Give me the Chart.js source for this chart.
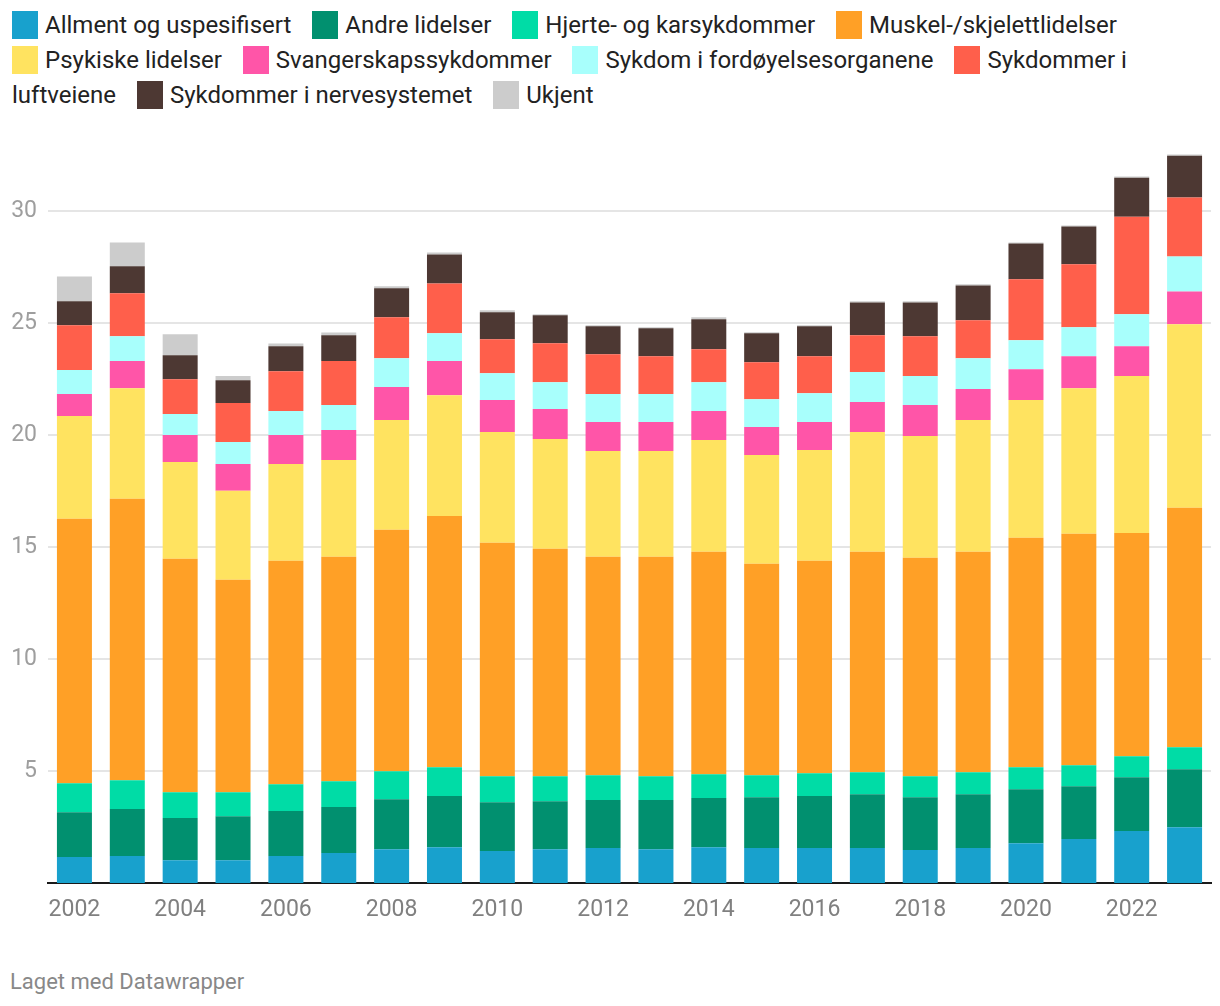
<!DOCTYPE html>
<html>
<head>
<meta charset="utf-8">
<script src="https://cdn.jsdelivr.net/npm/chart.js@4.4.1/dist/chart.umd.min.js"></script>
<style>
  body { margin: 0; background: #fff; font-family: Roboto, sans-serif; }
  #legend { position: absolute; left: 12px; top: 8px; width: 1200px; font-size: 24px; line-height: 35px; color: #222; }
  #legend .it { margin-right: 15px; }
  #legend .nw { white-space: nowrap; }
  #legend .sw { display: inline-block; width: 26px; height: 28px; vertical-align: -6px; margin-right: 7px; }
  #wrap { position: absolute; left: 0; top: 128px; width: 1220px; height: 812px; }
  #foot { position: absolute; left: 10px; top: 969px; font-size: 22px; color: #888; }
</style>
</head>
<body>
<div id="legend"></div>
<div id="wrap"><canvas id="chart"></canvas></div>
<div id="foot">Laget med Datawrapper</div>
<script>
const years = ['2002','2003','2004','2005','2006','2007','2008','2009','2010','2011','2012',
  '2013','2014','2015','2016','2017','2018','2019','2020','2021','2022','2023'];

const seriesNames = ['Allment og uspesifisert', 'Andre lidelser', 'Hjerte- og karsykdommer',
  'Muskel-/skjelettlidelser', 'Psykiske lidelser', 'Svangerskapssykdommer',
  'Sykdom i fordøyelsesorganene', 'Sykdommer i luftveiene', 'Sykdommer i nervesystemet', 'Ukjent'];
const seriesColors = ['#18a1cd', '#01906f', '#00dca6', '#ffa026', '#ffe360',
  '#ff55a8', '#a8fffc', '#ff5f4b', '#4d3833', '#cccccc'];

const allment  = [1.16,1.20,1.02,1.02,1.20,1.34,1.51,1.60,1.43,1.51,1.56,1.51,1.60,1.56,1.56,1.56,1.47,1.56,1.78,1.96,2.32,2.49];
const andre    = [2.00,2.10,1.88,1.96,2.01,2.05,2.23,2.28,2.18,2.14,2.14,2.19,2.19,2.27,2.32,2.40,2.36,2.40,2.41,2.36,2.40,2.59];
const hjerte   = [1.29,1.29,1.15,1.07,1.20,1.15,1.25,1.29,1.16,1.12,1.11,1.07,1.07,0.98,1.02,0.98,0.94,0.98,0.98,0.94,0.94,0.98];
const muskel   = [11.81,12.56,10.43,9.49,9.98,10.03,10.78,11.22,10.42,10.15,9.76,9.80,9.93,9.44,9.49,9.85,9.75,9.85,10.24,10.33,9.97,10.69];
const psykiske = [4.59,4.94,4.32,3.97,4.32,4.32,4.90,5.39,4.94,4.90,4.72,4.72,4.99,4.86,4.94,5.34,5.44,5.88,6.15,6.50,7.00,8.19];
const svanger  = [0.98,1.21,1.20,1.20,1.29,1.33,1.47,1.52,1.43,1.34,1.29,1.29,1.29,1.25,1.25,1.34,1.38,1.38,1.38,1.43,1.33,1.47];
const fordoy   = [1.07,1.11,0.94,0.98,1.07,1.12,1.29,1.24,1.20,1.20,1.25,1.25,1.29,1.24,1.29,1.34,1.29,1.38,1.29,1.29,1.43,1.56];
const luftveie = [2.00,1.92,1.55,1.74,1.78,1.96,1.83,2.23,1.52,1.74,1.78,1.69,1.47,1.65,1.65,1.64,1.78,1.69,2.72,2.81,4.36,2.63];
const nerve    = [1.07,1.20,1.07,1.02,1.11,1.15,1.29,1.29,1.20,1.25,1.25,1.25,1.34,1.29,1.34,1.47,1.51,1.56,1.60,1.69,1.74,1.87];
const ukjent   = [1.11,1.07,0.94,0.18,0.13,0.13,0.09,0.09,0.09,0.04,0.04,0.04,0.09,0.05,0.04,0.05,0.05,0.05,0.05,0.04,0.05,0.05];

const yTicks = [5, 10, 15, 20, 25, 30];

const seriesValues = [allment, andre, hjerte, muskel, psykiske, svanger, fordoy, luftveie, nerve, ukjent];

// legend as html so the long label can wrap like in the original
const legend = document.getElementById('legend');
seriesNames.forEach((name, i) => {
    const words = name.split(' ');
    const first = words.shift();
    const it = document.createElement('span');
    it.className = 'it';
    it.innerHTML = '<span class="nw"><i class="sw" style="background:' + seriesColors[i] + '"></i>' + first + '</span>'
        + (words.length ? ' ' + words.join(' ') : '');
    legend.appendChild(it);
    legend.appendChild(document.createTextNode(' '));
});

const ctx = document.getElementById('chart').getContext('2d');
new Chart(ctx, {
    type: 'bar',
    data: {
        labels: years,
        datasets: seriesNames.map((name, i) => ({
            label: name,
            data: seriesValues[i],
            backgroundColor: seriesColors[i],
            borderWidth: 0,
            categoryPercentage: 1,
            barPercentage: 0.662
        }))
    },
    options: {
        responsive: true,
        maintainAspectRatio: false,
        animation: false,
        layout: { padding: { top: 11, right: 9, left: 0, bottom: 0 } },
        plugins: { legend: { display: false }, tooltip: { enabled: false } },
        scales: {
            x: {
                stacked: true,
                z: 1,
                grid: { display: false, drawTicks: false },
                border: { display: true, color: '#1a1a1a', width: 2 },
                ticks: {
                    autoSkip: false,
                    maxRotation: 0,
                    padding: 13,
                    color: '#808080',
                    font: { family: 'Roboto', size: 23 },
                    callback: (v, i) => (i % 2 === 0 ? years[i] : '')
                },
                afterFit: (s) => { s.height = 57; }
            },
            y: {
                stacked: true,
                min: 0,
                max: 32.6,
                grid: { color: '#e5e5e5', lineWidth: 2, drawTicks: false },
                border: { display: false },
                ticks: {
                    padding: 11,
                    color: '#9e9e9e',
                    font: { family: 'Roboto', size: 23 }
                },
                afterBuildTicks: (s) => { s.ticks = yTicks.map(v => ({ value: v })); },
                afterFit: (s) => { s.width = 48; }
            }
        }
    }
});
</script>
</body>
</html>
